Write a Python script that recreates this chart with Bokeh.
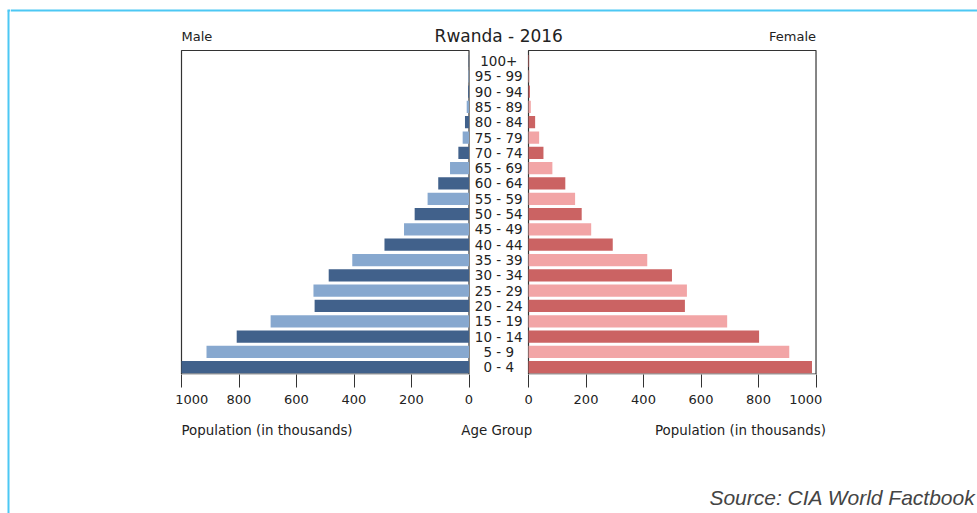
import numpy as np
from bokeh.plotting import figure
from bokeh.layouts import row, column
from bokeh.models import Range1d, FixedTicker, CustomJSTickFormatter
from bokeh.core.properties import value
from bokeh.embed import file_html
from bokeh.resources import INLINE

# ---------------- data ----------------
TITLE = "Rwanda - 2016"
AGE_GROUPS = ["0 - 4", "5 - 9", "10 - 14", "15 - 19", "20 - 24", "25 - 29", "30 - 34",
              "35 - 39", "40 - 44", "45 - 49", "50 - 54", "55 - 59", "60 - 64", "65 - 69",
              "70 - 74", "75 - 79", "80 - 84", "85 - 89", "90 - 94", "95 - 99", "100+"]
MALE = [1000, 913, 808, 690, 537, 541, 488, 406, 294, 226, 189, 144, 107, 66, 37, 22, 14, 8, 3, 2, 1]
FEMALE = [986, 907, 802, 691, 544, 551, 499, 413, 293, 218, 185, 162, 128, 83, 52, 37, 23, 8, 5, 3, 2]
TICKS = [0, 200, 400, 600, 800, 1000]

# ---------------- style / layout ----------------
MALE_DARK, MALE_LIGHT = "#41618B", "#87A8CF"
FEMALE_DARK, FEMALE_LIGHT = "#CB6363", "#F2A5A6"
TXT = "#222222"
BOX = "#333333"
BLUE = "#4CC8F4"
FONT = "DejaVu Sans"

W, H = 977, 513
STRIP_W = 10           # narrow figure holding the left blue frame line
FRAME_BOTTOM = 374     # pixel row of the plot frame's bottom edge
AXIS_H = 36            # room below the plot frame for ticks + tick labels
TOP_H = FRAME_BOTTOM + AXIS_H
X_MAX = 1000
K = 0.2875             # pixels per thousand
X0_PX = 181            # pixel column of "1000" on the male side
GAP = 207              # label gap, in population units
ROW_PX = 15.31         # pixels between age groups
ROW0_PX = 366.7        # pixel row of the "0 - 4" bar centre
BAR_H = 0.8


def mx(px):   # page pixel column -> male-axis coordinate
    return X_MAX - (px - X0_PX) / K


def py(px):   # page pixel row -> age-index coordinate (top figure)
    return (ROW0_PX - px) / ROW_PX


idx = np.arange(len(AGE_GROUPS))
male_colors = [MALE_DARK if i % 2 == 0 else MALE_LIGHT for i in idx]
female_colors = [FEMALE_DARK if i % 2 == 0 else FEMALE_LIGHT for i in idx]

x_male = Range1d(start=mx(STRIP_W), end=mx(W))
x_female = Range1d(start=-GAP - mx(STRIP_W), end=-GAP - mx(W))


def clean(f):
    f.grid.visible = False
    f.outline_line_color = None
    f.background_fill_color = "white"
    f.border_fill_color = "white"
    return f


# ---------------- main figure ----------------
p = clean(figure(width=W - STRIP_W, height=TOP_H, x_range=x_male,
                 y_range=Range1d(py(FRAME_BOTTOM), py(0)),
                 output_backend="svg", toolbar_location=None, y_axis_location=None,
                 min_border_left=0, min_border_right=0, min_border_top=0,
                 min_border_bottom=AXIS_H))
p.extra_x_ranges = {"female": x_female}

# blue top frame line
p.segment(x0=mx(STRIP_W), x1=mx(W), y0=py(10), y1=py(10), line_color=BLUE, line_width=2)

# panel boxes
Y_LO, Y_HI = py(FRAME_BOTTOM - 0.5), py(50)
for rn in ("default", "female"):
    p.quad(left=0, right=X_MAX, bottom=Y_LO, top=Y_HI, fill_color=None,
           line_color=BOX, line_width=1.2, x_range_name=rn)

# bars
p.hbar(y=idx, left=0, right=MALE, height=BAR_H, fill_color=male_colors, line_color=None)
p.hbar(y=idx, left=0, right=FEMALE, height=BAR_H, fill_color=female_colors, line_color=None,
       x_range_name="female")

# age group labels in the gap
p.text(x=-GAP / 2, y=idx, text=AGE_GROUPS, text_align="center", text_baseline="middle",
       text_font=value(FONT), text_font_size="13.5px", text_color=TXT)

# header texts
p.text(x=[-GAP / 2], y=[py(35)], text=[TITLE], text_align="center", text_baseline="middle",
       text_font=value(FONT), text_font_size="17px", text_color=TXT)
p.text(x=[X_MAX], y=[py(36)], text=["Male"], text_align="left", text_baseline="middle",
       text_font=value(FONT), text_font_size="13px", text_color=TXT)
p.text(x=[X_MAX], y=[py(36)], text=["Female"], text_align="right", text_baseline="middle",
       text_font=value(FONT), text_font_size="13px", text_color=TXT, x_range_name="female")

# axis: male ticks directly, female ticks mapped into male coordinates
ax = p.xaxis[0]
ax.ticker = FixedTicker(ticks=TICKS + [-GAP - t for t in TICKS], minor_ticks=[])
ax.formatter = CustomJSTickFormatter(args=dict(gap=GAP, xmax=X_MAX), code="""
    const fem = tick < -gap / 2;
    const v = fem ? (-tick - gap) : tick;
    let s = v.toFixed(0);
    const pad = "\\u00a0".repeat(5);
    if (v == xmax) { s = fem ? s + pad : pad + s; }
    return s;
""")
ax.axis_line_color = None
ax.major_tick_in = 0
ax.major_tick_out = 13
ax.major_tick_line_color = BOX
ax.minor_tick_line_color = None
ax.major_label_standoff = 4
ax.major_label_text_font = FONT
ax.major_label_text_font_size = "13px"
ax.major_label_text_color = TXT

# ---------------- bottom figure: axis titles + source ----------------
b = clean(figure(width=W - STRIP_W, height=H - TOP_H, x_range=x_male,
                 y_range=Range1d(H, TOP_H), output_backend="svg", toolbar_location=None,
                 x_axis_location=None, y_axis_location=None, min_border=0))
b.extra_x_ranges = {"female": x_female}
b.text(x=[X_MAX], y=[430], text=["Population (in thousands)"], text_align="left",
       text_baseline="middle", text_font=value(FONT), text_font_size="13.4px", text_color=TXT)
b.text(x=[-GAP / 2], y=[430], text=["Age Group"], text_align="center", x_offset=-2,
       text_baseline="middle", text_font=value(FONT), text_font_size="13.4px", text_color=TXT)
b.text(x=[X_MAX], y=[430], text=["Population (in thousands)"], text_align="right",
       text_baseline="middle", text_font=value(FONT), text_font_size="13.4px", text_color=TXT,
       x_range_name="female", x_offset=10)
b.text(x=[mx(975)], y=[497], text=["Source: CIA World Factbook"], text_align="right",
       text_baseline="middle", text_font=value("Liberation Sans"), text_font_style="italic",
       text_font_size="21px", text_color="#444444")

# ---------------- left strip with the blue frame corner ----------------
s = clean(figure(width=STRIP_W, height=H, x_range=Range1d(0, STRIP_W), y_range=Range1d(H, 0),
                 output_backend="svg", toolbar_location=None,
                 x_axis_location=None, y_axis_location=None, min_border=0))
s.segment(x0=[8, 7], x1=[8, STRIP_W], y0=[10, 10], y1=[H, 10], line_color=BLUE, line_width=2)

layout = row(s, column(p, b))
open("out.html", "w").write(file_html(layout, INLINE))
